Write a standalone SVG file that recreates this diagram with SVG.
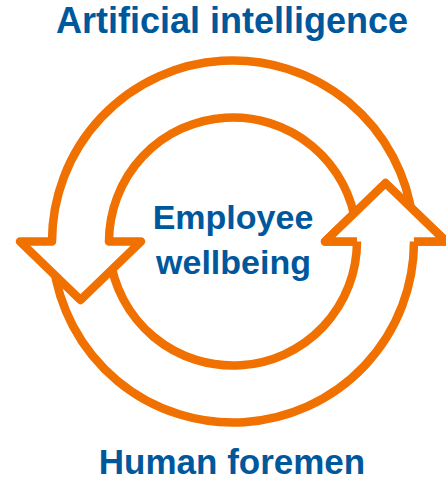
<svg xmlns="http://www.w3.org/2000/svg" width="446" height="480" viewBox="0 0 446 480">
  <style>
    .loop { fill: #ffffff; stroke: #F07000; stroke-width: 8.5; stroke-linejoin: round; }
    .label { font-family: "Liberation Sans", Arial, sans-serif; font-weight: bold; fill: #00589C; text-anchor: middle; }
  </style>
  <rect width="446" height="480" fill="#ffffff"/>

  <!-- circular arrows, ring centre (233, 241.5), radii 124 / 181 -->
  <g id="connectors">
    <!-- lower arc: tail at left, head at right pointing up -->
    <path id="arrow-up" class="loop" d="M53.35,263.56 A181,181 0 0 0 414,241.5 L446,241.5 L385.5,183 L325,241.5 L357,241.5 A124,124 0 0 1 109.92,256.61 Z"/>
    <!-- upper arc: tail at right, head at left pointing down -->
    <path id="arrow-down" class="loop" d="M412.65,219.44 A181,181 0 0 0 52,241.5 L20,241.5 L80.5,300 L141,241.5 L109,241.5 A124,124 0 0 1 356.08,226.39 Z"/>
    <!-- right head redrawn over the upper arc's tail -->
    <path id="arrow-up-head" class="loop" d="M414,241.5 L446,241.5 L385.5,183 L325,241.5 L357,241.5"/>
  </g>

  <g id="ai">
    <text class="label" x="232" y="33" font-size="36">Artificial intelligence</text>
  </g>
  <g id="wellbeing">
    <text class="label" x="233" y="229" font-size="34">Employee</text>
    <text class="label" x="233.5" y="274" font-size="34">wellbeing</text>
  </g>
  <g id="foremen">
    <text class="label" x="232" y="474" font-size="35">Human foremen</text>
  </g>
</svg>
